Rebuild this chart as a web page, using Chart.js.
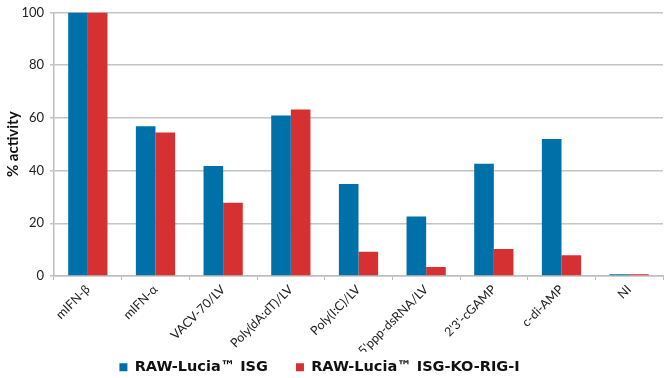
<!DOCTYPE html>
<html>
<head>
<meta charset="utf-8">
<script src="https://cdn.jsdelivr.net/npm/chart.js@4"></script>
<style>
  html, body { margin: 0; padding: 0; background: #fff; }
  #wrap { width: 669px; height: 378px; }
</style>
</head>
<body>
<div id="wrap"><canvas id="activity"></canvas></div>
<script>
const labels = [
    'mIFN-β',
    'mIFN-α',
    'VACV-70/LV',
    'Poly(dA:dT)/LV',
    'Poly(I:C)/LV',
    "5'ppp-dsRNA/LV",
    "2'3'-cGAMP",
    'c-di-AMP',
    'NI',
];
const isgValues = [100, 56.8, 41.7, 60.9, 34.9, 22.6, 42.6, 52, 0.7];
const rigValues = [100, 54.5, 27.8, 63.2, 9.2, 3.4, 10.2, 7.9, 0.7];
const yTicks = [0, 20, 40, 60, 80, 100];

// legend padding is large to get the wide gap between the two items,
// its box is capped with maxHeight and its top pulled up here
const legendShift = {
    id: 'legendShift',
    afterLayout: function (chart) {
        chart.legend.top -= 20;
        chart.legend.height += 20;
        chart.legend.left -= 13;
        chart.legend.right -= 13;
    }
}

const data = {
    labels: labels,
    datasets: [{
        label: 'RAW-Lucia™ ISG',
        backgroundColor: 'rgb(0,112,168)',
        borderColor: 'rgb(0,112,168)',
        data: isgValues
    },
    {
        label: 'RAW-Lucia™ ISG-KO-RIG-I',
        backgroundColor: 'rgb(214,48,51)',
        borderColor: 'rgb(214,48,51)',
        data: rigValues
    }
    ]
}
const config = {
    type: 'bar',
    data: data,
    plugins: [legendShift],
    options: {
        responsive: true,
        maintainAspectRatio: false,
        animation: false,
        layout: {
            padding: { left: 2, right: 6, top: 0, bottom: 0 }
        },
        datasets: {
            bar: {
                categoryPercentage: 0.58,
                barPercentage: 1.0
            }
        },
        scales: {
            x: {
                afterFit: function (axis) {
                    axis.height = 76;
                },
                grid: {
                    drawOnChartArea: false,
                    color: '#bdbdbd',
                    tickLength: 4
                },
                border: { color: '#bdbdbd', width: 1.5 },
                ticks: {
                    minRotation: 45,
                    maxRotation: 45,
                    padding: 2,
                    color: '#222',
                    font: { family: 'Lato', size: 12.5 }
                }
            },
            y: {
                min: 0,
                max: 100,
                afterFit: function (axis) {
                    axis.width = 52;
                },
                afterBuildTicks: function (axis) {
                    axis.ticks = yTicks.map(v => ({ value: v }));
                },
                grid: {
                    color: '#c4c4c4',
                    lineWidth: 1.5,
                    tickLength: 4
                },
                border: { color: '#bdbdbd', width: 1.5 },
                ticks: {
                    color: '#222',
                    padding: 6,
                    font: { family: 'Lato', size: 13, lineHeight: 1 }
                },
                title: {
                    display: true,
                    text: '% activity',
                    color: '#111',
                    padding: 2,
                    font: { family: 'Lato', size: 15, weight: 'bold' }
                }
            }
        },
        plugins: {
            legend: {
                position: 'bottom',
                maxHeight: 26,
                labels: {
                    boxWidth: 8,
                    boxHeight: 8,
                    padding: 28,
                    color: '#111',
                    font: { family: 'DejaVu Sans', size: 14.5, weight: 'bold' }
                }
            },
            tooltip: { enabled: false }
        }
    }
}
const activityChart = new Chart(
    document.getElementById('activity'),
    config
)
</script>
</body>
</html>
